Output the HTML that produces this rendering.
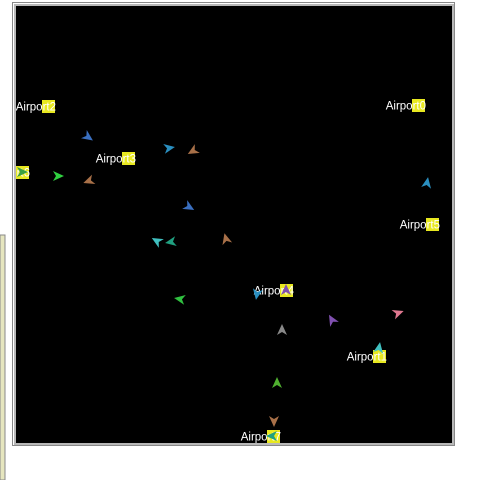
<!DOCTYPE html>
<html><head><meta charset="utf-8"><style>
html,body{margin:0;padding:0;background:#fff;width:480px;height:480px;overflow:hidden;font-family:"Liberation Sans","DejaVu Sans",sans-serif}
</style></head><body>
<svg width="480" height="480" xmlns="http://www.w3.org/2000/svg">
<defs><clipPath id="mapclip"><rect x="16" y="6" width="436" height="437"/></clipPath></defs>
<rect x="0" y="235" width="5" height="245" fill="#e6e6bf" stroke="#888" stroke-width="1"/>
<rect x="12.5" y="2.5" width="442" height="443" fill="#fff" stroke="#888" stroke-width="1"/>
<rect x="14" y="4" width="440" height="441" fill="#b8b8b8"/>
<rect x="16" y="6" width="436" height="437" fill="#000"/>
<g id="airports" clip-path="url(#mapclip)"></g>
<g id="planes" clip-path="url(#mapclip)"></g>
</svg>
<script>
const airportNames=["Airport0","Airport2","Airport3","Airport6","Airport5","Airport4","Airport1","Airport7"];
const airportX=[412,42,122,16,426,280,373,267];
const airportY=[99,100,152,166,218,284,350,430];
const planeX=[88,169,193,22,58,89,189,157,171,226,180,257,286,282,332,398,379,427,277,274,272];
const planeY=[137,148,151,172,176,181,207,241,242,239,299,294,290,330,320,313,348,183,383,421,436];
const planeHeading=[125,80,240,90,90,250,120,300,260,345,280,190,0,0,330,70,10,10,0,180,270];
const planeColor=["#3a6fc0","#2a8fc0","#a87048","#3aa040","#30d040","#a87048","#3a6fc0","#40c0c0","#20a080","#a87048","#30c040","#2a8fc0","#8050b0","#888888","#8050b0","#e07890","#40c0c0","#2a8fc0","#50b030","#a87048","#20a080"];
const NS="http://www.w3.org/2000/svg";
const ag=document.getElementById('airports');
airportNames.forEach((n,i)=>{
  const r=document.createElementNS(NS,'rect');
  r.setAttribute('x',airportX[i]);r.setAttribute('y',airportY[i]);
  r.setAttribute('width',13);r.setAttribute('height',13);r.setAttribute('fill','#e8e820');
  
  
  ag.appendChild(r);
  const t=document.createElementNS(NS,'text');
  t.setAttribute('x',airportX[i]+14);t.setAttribute('y',airportY[i]+10.5);
  t.setAttribute('text-anchor','end');t.setAttribute('fill','#fff');t.setAttribute('font-size','11.5');
  t.textContent=n;
  
  
  ag.appendChild(t);
});
const pg=document.getElementById('planes');
planeX.forEach((x,i)=>{
  const p=document.createElementNS(NS,'polygon');
  p.setAttribute('points','0,-6 5,5 0,2 -5,5');
  p.setAttribute('fill',planeColor[i]);
  p.setAttribute('transform','translate('+x+','+planeY[i]+') rotate('+planeHeading[i]+')');
  
  
  pg.appendChild(p);
});
</script>
</body></html>
